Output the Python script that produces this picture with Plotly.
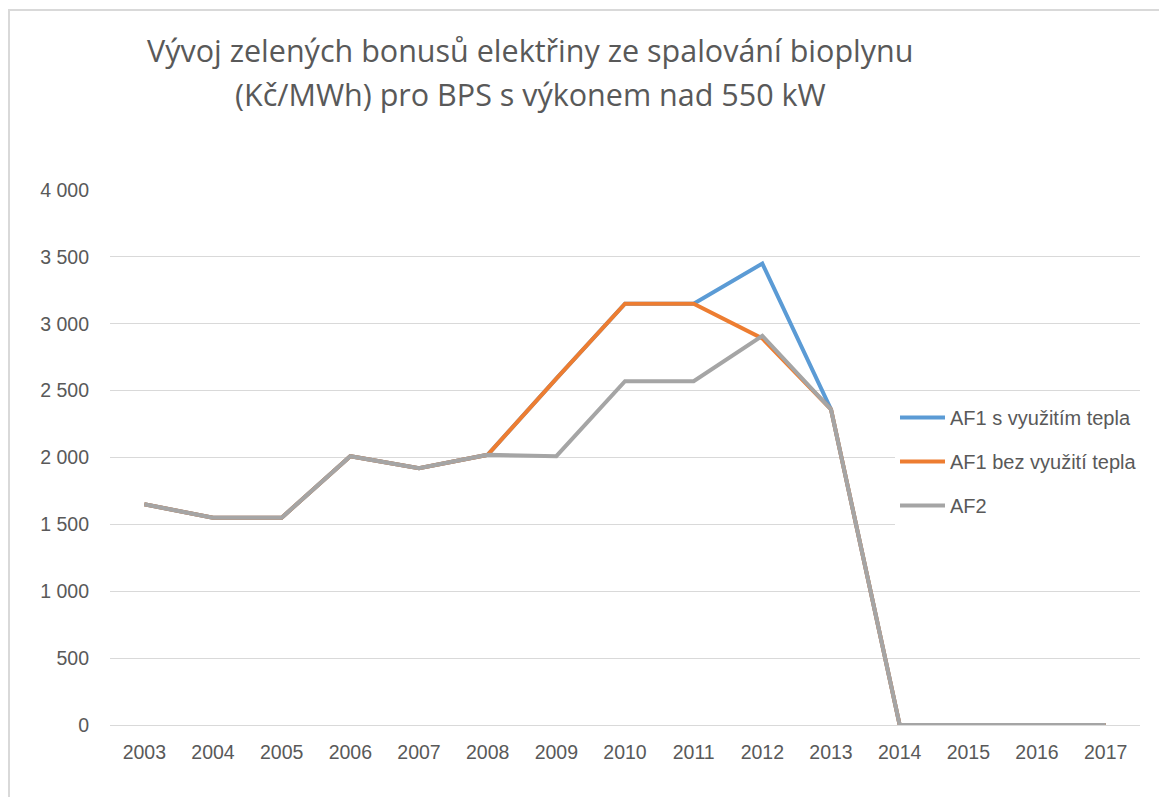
import plotly.graph_objects as go

years = [str(y) for y in range(2003, 2018)]
af1_s_teplem = [1650, 1550, 1550, 2010, 1920, 2020, 2590, 3150, 3150, 3450, 2360, 0, 0, 0, 0]
af1_bez_tepla = [1650, 1550, 1550, 2010, 1920, 2020, 2590, 3150, 3150, 2890, 2360, 0, 0, 0, 0]
af2 = [1650, 1550, 1550, 2010, 1920, 2020, 2010, 2570, 2570, 2910, 2360, 0, 0, 0, 0]

series = [
    ("AF1 s využitím tepla", af1_s_teplem, "#5B9BD5"),
    ("AF1 bez využití tepla", af1_bez_tepla, "#ED7D31"),
    ("AF2", af2, "#A5A5A5"),
]

# the page has an 8px body margin, so figure coords = screen coords - 8
OFF = 8
W, H = 1167, 797
L, R, T, B = 110 - OFF, 27 + OFF, 190 - OFF, 72 + OFF
PW, PH = W - L - R, H - T - B
TEXT = "#595959"
FONT = "Liberation Sans"


def px_x(x):
    # screen x -> paper x
    return (x - OFF - L) / PW


def px_y(y):
    # screen y -> paper y
    return (H - B - (y - OFF)) / PH


fig = go.Figure()
for i, (name, vals, color) in enumerate(series):
    fig.add_trace(go.Scatter(
        x=years, y=vals, name=name, mode="lines",
        line=dict(color=color, width=4),
        legendgroup=str(i),
    ))

title_lines = [
    ("Vývoj zelených bonusů elektřiny ze spalování bioplynu", 50),
    ("(Kč/MWh) pro BPS s výkonem nad 550 kW", 94),
]
annotations = [
    dict(text=t, x=px_x(530), y=px_y(yc), xref="paper", yref="paper",
         xanchor="center", yanchor="middle", showarrow=False,
         font=dict(family="Open Sans", size=30.5, color=TEXT))
    for t, yc in title_lines
]

fig.update_layout(
    width=W, height=H,
    paper_bgcolor="white", plot_bgcolor="white",
    margin=dict(l=L, r=R, t=T, b=B, autoexpand=False),
    separators=", ",
    font=dict(family=FONT, color=TEXT, size=16),
    annotations=annotations,
    showlegend=True,
    legend=dict(
        x=px_x(895), xanchor="left",
        y=px_y(398), yanchor="top",
        bgcolor="white",
        font=dict(family=FONT, size=20, color=TEXT),
        tracegroupgap=15,
        itemwidth=45,
    ),
    shapes=[dict(
        type="rect", xref="paper", yref="paper",
        x0=px_x(9), x1=px_x(W + 30),
        y0=px_y(H + 30), y1=px_y(10),
        line=dict(color="#D9D9D9", width=2), layer="below",
    )],
)

fig.update_xaxes(
    type="category", range=[-0.5, 14.5],
    showgrid=False, showline=False, ticks="",
    ticklabelstandoff=13,
    tickfont=dict(family=FONT, size=19.5, color=TEXT),
)
fig.update_yaxes(
    range=[0, 4000], dtick=500, tickformat=",d",
    showgrid=True, gridcolor="#D9D9D9", gridwidth=1,
    zeroline=True, zerolinecolor="#D9D9D9", zerolinewidth=1,
    showline=False, ticks="",
    ticklabelstandoff=20,
    tickfont=dict(family=FONT, size=19.5, color=TEXT),
)

fig.write_html("out.html")
